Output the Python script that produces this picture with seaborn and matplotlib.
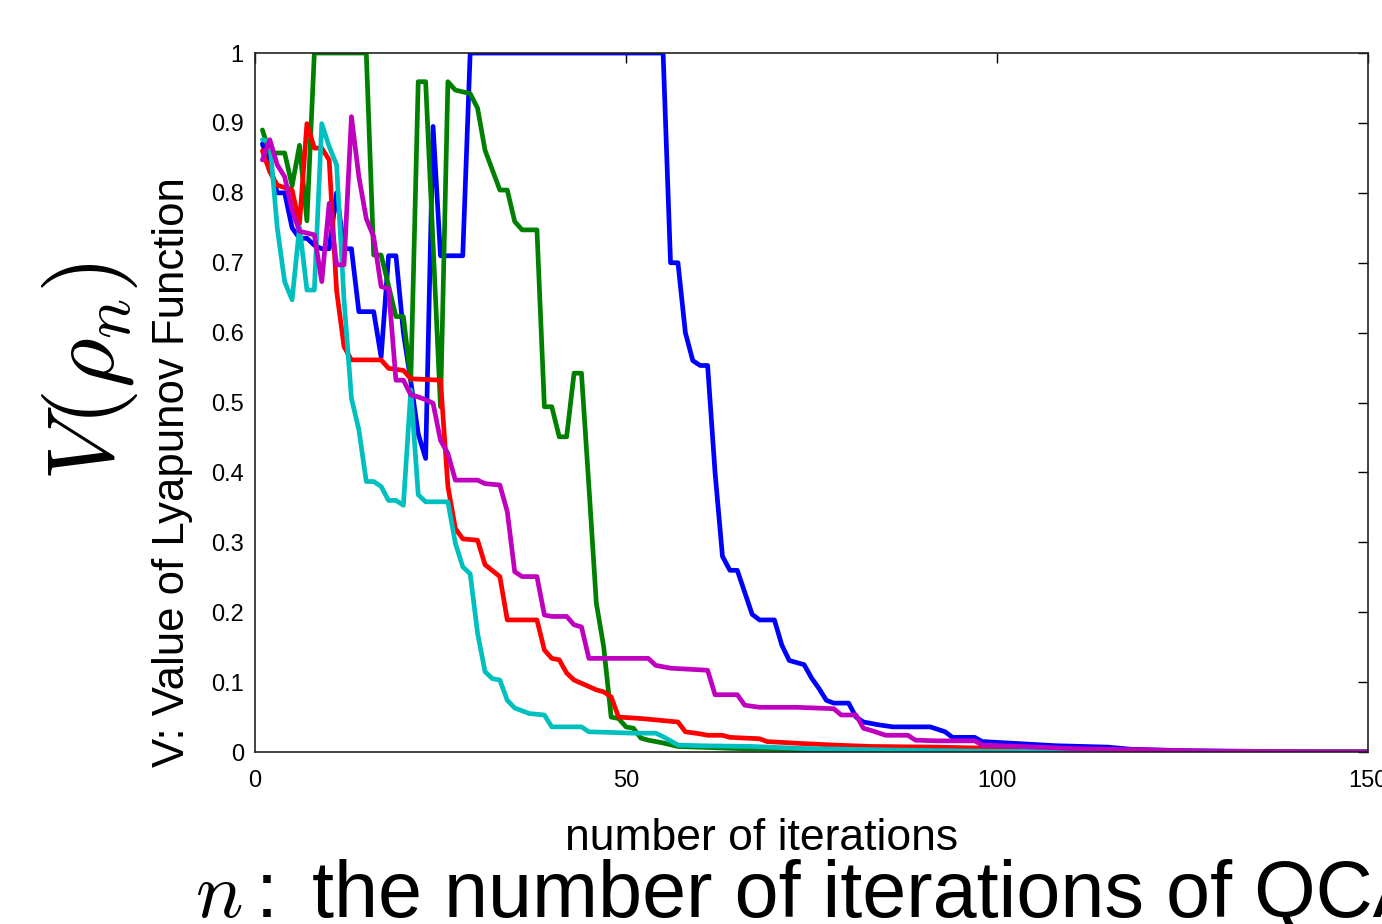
import numpy as np
import pandas as pd
import matplotlib
matplotlib.use("Agg")
import matplotlib.pyplot as plt
import seaborn as sns

# vertices (iteration n, value V)
blue_n = [1, 2, 3, 4, 5, 6, 7, 8, 9, 10, 11, 12, 13, 14, 16, 17, 18, 19, 20, 21, 22, 23, 24, 25, 28, 29,
          55, 56, 57, 58, 59, 60, 61, 62, 63, 64, 65, 67, 68, 70, 71, 72, 74, 75, 76, 77, 78, 80, 81, 82,
          84, 86, 91, 93, 94, 97, 98, 103, 108, 115, 118, 125, 135, 150]
blue_v = [.87, .84, .80, .80, .75, .735, .735, .725, .72, .72, .80, .72, .72, .63, .63, .565, .71, .71, .60, .53,
          .455, .42, .895, .71, .71, 1.0, 1.0, .70, .70, .60, .56, .553, .553, .40, .28, .26, .26, .197, .189,
          .189, .153, .131, .125, .106, .091, .074, .07, .07, .05, .043, .039, .036, .036, .029, .021, .021,
          .015, .012, .009, .007, .004, .002, .001, .0005]

green_n = [1, 2, 4, 5, 6, 7, 8, 15, 16, 17, 19, 20, 21, 22, 23, 25, 26, 27, 29, 30, 31, 33, 34, 35, 36, 38,
           39, 40, 41, 42, 43, 44, 45, 46, 47, 48, 49, 50, 51, 52, 53, 55, 57, 65, 80, 100, 150]
green_v = [.89, .857, .857, .81, .868, .76, 1.0, 1.0, .711, .711, .623, .623, .532, .959, .959, .494, .959,
           .947, .942, .921, .861, .804, .804, .759, .747, .747, .494, .494, .451, .451, .542, .542, .38,
           .213, .15, .05, .048, .036, .034, .02, .017, .013, .008, .005, .002, .001, 0]

red_n = [1, 2, 3, 5, 6, 7, 8, 9, 10, 11, 12, 13, 17, 18, 20, 21, 25, 26, 27, 28, 30, 31, 33, 34, 38, 39, 40,
         41, 42, 43, 46, 47, 48, 49, 52, 54, 57, 58, 60, 61, 63, 64, 68, 69, 74, 78, 83, 92, 101, 110, 125, 150]
red_v = [.86, .83, .811, .804, .756, .899, .864, .864, .847, .66, .58, .561, .561, .549, .546, .534, .532,
         .38, .32, .305, .303, .268, .251, .189, .189, .146, .134, .132, .113, .103, .089, .086, .079, .05,
         .048, .046, .043, .029, .026, .024, .024, .021, .019, .015, .012, .01, .008, .007, .005, .003, .001, 0]

cyan_n = [1, 2, 3, 4, 5, 6, 7, 8, 9, 10, 11, 12, 13, 14, 15, 16, 17, 18, 19, 20, 21, 22, 23, 26, 27, 28, 29,
          30, 31, 32, 33, 34, 35, 37, 39, 40, 44, 45, 51, 54, 55, 57, 60, 67, 74, 85, 100, 150]
cyan_v = [.876, .873, .75, .673, .647, .751, .661, .661, .899, .866, .84, .647, .506, .461, .387, .387, .38,
          .36, .36, .353, .518, .368, .358, .358, .299, .265, .255, .17, .115, .105, .103, .074, .063, .055,
          .053, .036, .036, .029, .027, .027, .022, .01, .009, .008, .005, .003, .001, 0]

mag_n = [1, 2, 3, 4, 5, 6, 8, 9, 10, 11, 12, 13, 14, 15, 16, 17, 18, 19, 20, 21, 22, 23, 24, 25, 26, 27, 30,
         31, 33, 34, 35, 36, 38, 39, 40, 42, 43, 44, 45, 53, 54, 56, 61, 62, 65, 66, 68, 73, 78, 79, 81, 82,
         83, 85, 88, 89, 92, 97, 98, 103, 110, 120, 130, 150]
mag_v = [.847, .876, .84, .823, .775, .745, .74, .673, .785, .697, .697, .909, .823, .763, .737, .666, .663,
         .532, .532, .511, .508, .504, .499, .446, .427, .389, .389, .384, .382, .344, .258, .251, .251, .196,
         .194, .194, .182, .179, .134, .134, .124, .12, .117, .082, .082, .067, .064, .064, .062, .053, .053,
         .034, .031, .024, .024, .017, .016, .016, .01, .008, .005, .003, .001, 0]

series = {
    'blue': (blue_n, blue_v, (0, 0, 1)),
    'green': (green_n, green_v, (0, 0.5, 0)),
    'red': (red_n, red_v, (1, 0, 0)),
    'cyan': (cyan_n, cyan_v, (0, 0.75, 0.75)),
    'magenta': (mag_n, mag_v, (0.75, 0, 0.75)),
}

sns.set_theme(style="white")
plt.rcParams['font.family'] = ['Liberation Sans', 'DejaVu Sans']
plt.rcParams['mathtext.fontset'] = 'cm'
plt.rcParams['text.color'] = 'black'

fig = plt.figure(figsize=(13.82, 9.24), dpi=100)
ax = fig.add_axes([0.1845, 0.1861, 0.8054, 0.7565])

for name, (n, v, col) in series.items():
    df = pd.DataFrame({'n': n, 'V': v})
    sns.lineplot(data=df, x='n', y='V', ax=ax, color=col, linewidth=3.4, estimator=None, sort=False)

ax.set_xlim(0, 150)
ax.set_ylim(0, 1)
ax.set_xticks([0, 50, 100, 150])
ax.set_yticks(np.arange(0, 1.01, 0.1))
ax.set_yticklabels(['0', '0.1', '0.2', '0.3', '0.4', '0.5', '0.6', '0.7', '0.8', '0.9', '1'])
ax.tick_params(direction='in', length=7, width=1, top=True, right=True, labelsize=17,
               colors='black')
ax.tick_params(axis='y', pad=8)
ax.tick_params(axis='x', pad=13)
ax.set_xlabel('')
ax.set_ylabel('')
for s in ax.spines.values():
    s.set_linewidth(1.2)
    s.set_color('#222222')

fig.text(173 / 1382, 1 - 472 / 924, 'V: Value of Lyapunov Function', rotation=90,
         fontsize=31.5, ha='center', va='center')
fig.text(762 / 1382, 1 - 838 / 924, 'number of iterations', fontsize=32, ha='center', va='center')
fig.text(195 / 1382, 1 - 917 / 924, '$n$', fontsize=57, ha='left', va='baseline')
fig.text(256 / 1382, 1 - 917 / 924, ':', fontsize=57, ha='left', va='baseline')
fig.text(312 / 1382, 1 - 917 / 924, 'the number of iterations of QCA', fontsize=57,
         ha='left', va='baseline')
fig.text(90 / 1382, 1 - 372 / 924, r'$V(\rho_n)$', rotation=90, fontsize=69, ha='center', va='center')

fig.savefig('out.png', dpi=100)
